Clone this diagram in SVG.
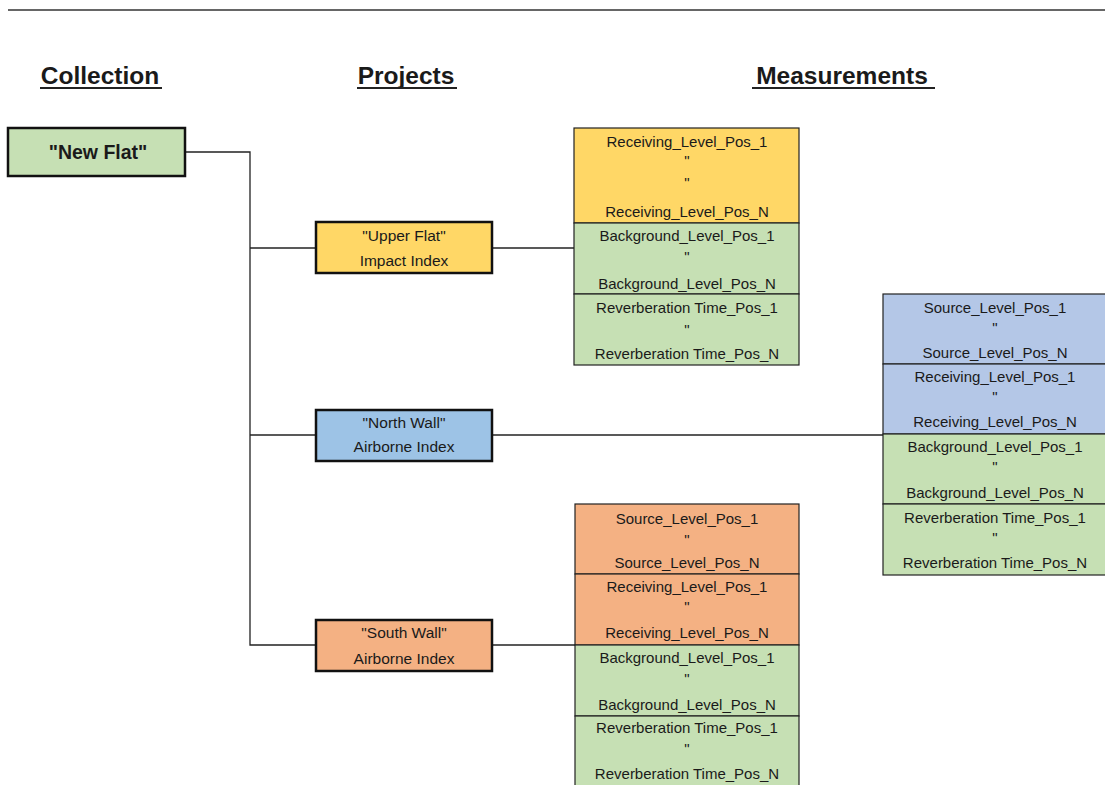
<svg xmlns="http://www.w3.org/2000/svg" width="1105" height="785" viewBox="0 0 1105 785">
<style>
text{font-family:"Liberation Sans",Arial,sans-serif;fill:#1a1a1a;text-anchor:middle}
.h{font-size:24.5px;font-weight:bold}
.m{font-size:15px}
.p{font-size:15.5px}
.box{stroke:#111;stroke-width:2.5}
.cell{stroke:#222;stroke-width:1.2}
.ln{stroke:#222;stroke-width:1.3;fill:none}
.y{fill:#FFD766}.g{fill:#C6E0B4}.b{fill:#9DC3E6}.bl{fill:#B4C7E7}.o{fill:#F4B183}
</style>
<rect width="1105" height="785" fill="#fff"/>
<line x1="8" y1="10" x2="1105" y2="10" stroke="#333" stroke-width="1.5"/>
<g id="headers">
<text class="h" x="100" y="84">Collection</text>
<line x1="40" y1="88" x2="162" y2="88" stroke="#222" stroke-width="1.8"/>
<text class="h" x="406" y="84">Projects</text>
<line x1="357" y1="88" x2="457" y2="88" stroke="#222" stroke-width="1.8"/>
<text class="h" x="842" y="84">Measurements</text>
<line x1="752" y1="88" x2="935" y2="88" stroke="#222" stroke-width="1.8"/>
</g>
<g id="connectors">
<polyline class="ln" points="186,152 250,152 250,645 316,645"/>
<line class="ln" x1="250" y1="248" x2="316" y2="248"/>
<line class="ln" x1="250" y1="435" x2="316" y2="435"/>
<line class="ln" x1="492" y1="248" x2="574" y2="248"/>
<line class="ln" x1="492" y1="435" x2="883" y2="435"/>
<line class="ln" x1="492" y1="645" x2="575" y2="645"/>
</g>
<g id="new-flat">
<rect class="box g" x="8" y="128" width="177" height="48"/>
<text x="98" y="159" style="font-size:19.5px;font-weight:bold">"New Flat"</text>
</g>
<g id="upper-flat">
<rect class="box y" x="316" y="222" width="176" height="51"/>
<text class="p" x="404" y="241">"Upper Flat"</text>
<text class="p" x="404" y="266">Impact Index</text>
</g>
<g id="north-wall">
<rect class="box b" x="316" y="410" width="176" height="51"/>
<text class="p" x="404" y="428">"North Wall"</text>
<text class="p" x="404" y="452">Airborne Index</text>
</g>
<g id="south-wall">
<rect class="box o" x="316" y="620" width="176" height="51"/>
<text class="p" x="404" y="638">"South Wall"</text>
<text class="p" x="404" y="664">Airborne Index</text>
</g>
<g id="upper-measurements">
<rect class="cell y" x="574" y="128" width="225" height="95"/>
<rect class="cell g" x="574" y="223" width="225" height="71"/>
<rect class="cell g" x="574" y="294" width="225" height="71"/>
<text class="m" x="687" y="147">Receiving_Level_Pos_1</text>
<text class="m" x="687" y="166">"</text>
<text class="m" x="687" y="188">"</text>
<text class="m" x="687" y="217">Receiving_Level_Pos_N</text>
<text class="m" x="687" y="241">Background_Level_Pos_1</text>
<text class="m" x="687" y="262">"</text>
<text class="m" x="687" y="289">Background_Level_Pos_N</text>
<text class="m" x="687" y="313">Reverberation Time_Pos_1</text>
<text class="m" x="687" y="335">"</text>
<text class="m" x="687" y="359">Reverberation Time_Pos_N</text>
</g>
<g id="north-measurements">
<rect class="cell bl" x="883" y="294" width="230" height="70"/>
<rect class="cell bl" x="883" y="364" width="230" height="70"/>
<rect class="cell g" x="883" y="434" width="230" height="70"/>
<rect class="cell g" x="883" y="504" width="230" height="71"/>
<text class="m" x="995" y="313">Source_Level_Pos_1</text>
<text class="m" x="995" y="333">"</text>
<text class="m" x="995" y="358">Source_Level_Pos_N</text>
<text class="m" x="995" y="382">Receiving_Level_Pos_1</text>
<text class="m" x="995" y="402">"</text>
<text class="m" x="995" y="427">Receiving_Level_Pos_N</text>
<text class="m" x="995" y="452">Background_Level_Pos_1</text>
<text class="m" x="995" y="472">"</text>
<text class="m" x="995" y="498">Background_Level_Pos_N</text>
<text class="m" x="995" y="523">Reverberation Time_Pos_1</text>
<text class="m" x="995" y="543">"</text>
<text class="m" x="995" y="568">Reverberation Time_Pos_N</text>
</g>
<g id="south-measurements">
<rect class="cell o" x="575" y="504" width="224" height="70"/>
<rect class="cell o" x="575" y="574" width="224" height="71"/>
<rect class="cell g" x="575" y="645" width="224" height="71"/>
<rect class="cell g" x="575" y="716" width="224" height="75"/>
<text class="m" x="687" y="524">Source_Level_Pos_1</text>
<text class="m" x="687" y="545">"</text>
<text class="m" x="687" y="568">Source_Level_Pos_N</text>
<text class="m" x="687" y="592">Receiving_Level_Pos_1</text>
<text class="m" x="687" y="612">"</text>
<text class="m" x="687" y="638">Receiving_Level_Pos_N</text>
<text class="m" x="687" y="663">Background_Level_Pos_1</text>
<text class="m" x="687" y="684">"</text>
<text class="m" x="687" y="710">Background_Level_Pos_N</text>
<text class="m" x="687" y="733">Reverberation Time_Pos_1</text>
<text class="m" x="687" y="754">"</text>
<text class="m" x="687" y="779">Reverberation Time_Pos_N</text>
</g>
</svg>
